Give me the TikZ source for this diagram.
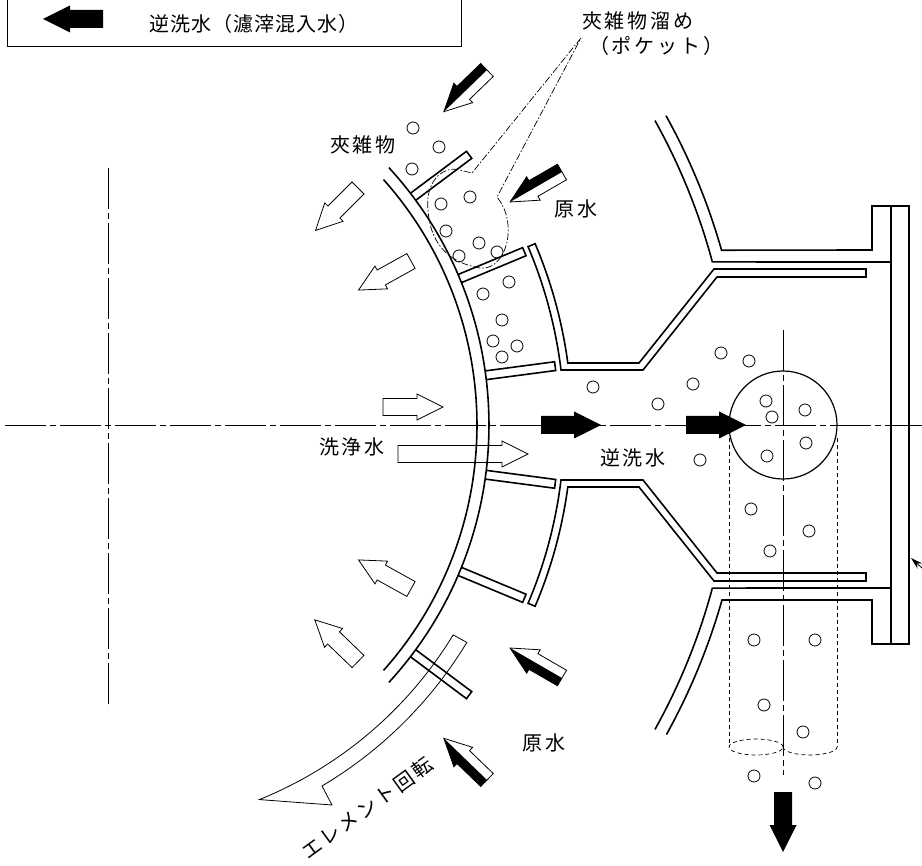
\documentclass[tikz,border=0pt]{standalone}
\usepackage{fontspec}
\setmainfont{Noto Sans CJK JP}[LetterSpace=14]
\newfontfamily\legendfont{Noto Sans CJK JP}[LetterSpace=5]
\usetikzlibrary{calc, arrows.meta}
\tikzset{
  wall/.style={line width=1.6pt, line join=miter}, % double walls, vanes and the flange
  hairline/.style={line width=0.8pt}, % outlines of the flow arrows
  centre line/.style={line width=0.8pt, dash pattern=on 41pt off 4pt on 6pt off 4pt},
  pocket line/.style={line width=0.7pt, dash pattern=on 7pt off 2pt on 1.5pt off 2pt},
  hidden line/.style={line width=0.7pt, dash pattern=on 4pt off 3pt},
  particle/.style={circle, draw, line width=0.8pt, inner sep=0pt, minimum size=12pt},
  caption/.style={inner sep=0pt, font=\fontsize{20}{24}\selectfont},
  pics/backflow/.style={code={ % solid arrow, tail at the origin
    \fill (0,-9) -- (33,-9) -- (33,-13.5) -- (60,0) -- (33,13.5) -- (33,9) -- (0,9) -- cycle;
  }},
  pics/wash/.style={code={ % open arrow, #1 is its length
    \draw[hairline] (0,-8.5) -- (#1-26,-8.5) -- (#1-26,-13) -- (#1,0) -- (#1-26,13) -- (#1-26,8.5) -- (0,8.5) -- cycle;
  }},
  pics/raw/.style={code={ % half black arrow
    \fill (0,0) -- (0,9) -- (33,9) -- (33,13.5) -- (60,0) -- cycle;
    \draw[hairline] (0,-9) -- (33,-9) -- (33,-13.5) -- (60,0) -- (33,13.5) -- (33,9) -- (0,9) -- cycle;
  }},
}

\begin{document}
\begin{tikzpicture}[x=1pt, y=-1pt]
    \clip (0,0) rectangle (922,866);
    \coordinate (drum) at (108,425);

    % legend
    \draw[hairline] (7,-5) rectangle (461,46);
    \pic[rotate=180] at (103,19) {backflow};
    \node[caption, font=\fontsize{20}{24}\selectfont\legendfont] (legendtext) at (254,24) {逆洗水（濾滓混入水）};

    % centre lines
    \draw[centre line] (5,425) -- (922,425);
    \draw[centre line] (108,168) -- (108,708);
    \draw[centre line] (783,330) -- (783,775);

    % element drum
    \draw[wall] ($(drum)+(41.7:369pt)$) arc[start angle=41.7, end angle=-41.7, radius=369pt];
    \draw[wall] ($(drum)+(42.5:381pt)$) arc[start angle=42.5, end angle=-42.5, radius=381pt];

    % vanes
    \draw[wall, shift={(drum)}, rotate=36.8] (381,-4.4) -- (451,-4.4) -- (451,4.4) -- (381,4.4);
    \draw[wall, shift={(drum)}, rotate=22.6] (381,-4.4) -- (451,-4.4) -- (451,4.4) -- (381,4.4);
    \draw[wall, shift={(drum)}, rotate=7.5] (381,-4.4) -- (451,-4.4) -- (451,4.4) -- (381,4.4);
    \draw[wall, shift={(drum)}, rotate=-7.5] (381,-4.4) -- (451,-4.4) -- (451,4.4) -- (381,4.4);
    \draw[wall, shift={(drum)}, rotate=-22.6] (381,-4.4) -- (451,-4.4) -- (451,4.4) -- (381,4.4);
    \draw[wall, shift={(drum)}, rotate=-36.8] (381,-4.4) -- (451,-4.4) -- (451,4.4) -- (381,4.4);

    % inner shell
    \draw[wall] ($(drum)+(23:464pt)$) arc[start angle=23, end angle=7.68, radius=464pt]
        -- (639,363) -- (714,269) -- (866,269) -- (866,277) -- (717,277) -- (643,370) -- (561,370)
        arc[start angle=6.92, end angle=23, radius=456.3pt] -- cycle;
    \draw[wall] ($(drum)+(-23:464pt)$) arc[start angle=-23, end angle=-7.68, radius=464pt]
        -- (639,487) -- (714,581) -- (866,581) -- (866,573) -- (717,573) -- (643,480) -- (561,480)
        arc[start angle=-6.92, end angle=-23, radius=456.3pt] -- cycle;

    % outer casing and flange
    \draw[wall] ($(drum)+(29:638pt)$) arc[start angle=29, end angle=15.9, radius=638pt]
        -- (872,250) -- (872,206) -- (909,206) -- (909,644) -- (872,644) -- (872,600) -- (722,600)
        arc[start angle=-15.9, end angle=-29, radius=638pt];
    \draw[wall] ($(drum)+(29.1:626pt)$) arc[start angle=29.1, end angle=15.1, radius=626pt] -- (891,262);
    \draw[wall] ($(drum)+(-29.1:626pt)$) arc[start angle=-29.1, end angle=-15.1, radius=626pt] -- (891,588);
    \draw[wall] (891,206) -- (891,644);

    % outlet and its hidden pipe
    \node[circle, draw, line width=1.2pt, inner sep=0pt, minimum size=108pt] (outlet) at (783,425) {};
    \draw[hidden line] (729,438) -- (729,747);
    \draw[hidden line] (837,438) -- (837,747);
    \draw[hidden line] (756,747) ellipse[x radius=27pt, y radius=8pt];
    \draw[hidden line] (783,747) arc[start angle=180, end angle=360, x radius=27pt, y radius=8pt];

    % rotation arrow
    \draw[hairline] ($(drum)+(-31.3:404pt)$) arc[start angle=-31.3, end angle=-68, radius=404pt]
        -- (332,805) -- (322,786)
        arc[start angle=-59.3, end angle=-31.2, radius=420pt] -- cycle;

    % pocket outline with its two leaders
    \coordinate (pocketmark) at (581,38);
    \draw[pocket line] (pocketmark) -- (472,173) -- (460,170)
        .. controls (440,165) and (425,185) .. (428,210)
        .. controls (430,240) and (445,262) .. (480,268)
        .. controls (500,270) and (510,245) .. (508,225)
        .. controls (507,213) and (503,205) .. (497,197) -- (pocketmark);

    % small arrow at the flange
    \coordinate (flangeend) at (922,568);
    \coordinate (flangemark) at (911,558);
    \draw[hairline, -{Stealth[length=12pt, width=7pt]}] (flangeend) -- (flangemark);

    % flow arrows
    \pic[rotate=224] at (487,70) {raw};
    \pic[rotate=210] at (562,172) {raw};
    \pic[rotate=150, yscale=-1] at (562,678) {raw};
    \pic[rotate=136, yscale=-1] at (487,780) {raw};
    \pic[rotate=225] at (358,188) {wash=60};
    \pic[rotate=209] at (411,261) {wash=60};
    \pic[rotate=151] at (411,589) {wash=60};
    \pic[rotate=136] at (358,661.5) {wash=60};
    \pic at (383,407) {wash=60};
    \pic at (398,454) {wash=130};
    \pic at (541,425) {backflow};
    \pic at (686,425) {backflow};
    \pic[rotate=-90] at (783,792) {backflow};

    % particles
    \node[particle] (p1) at (413,128) {};
    \node[particle] (p2) at (439,147) {};
    \node[particle] (p3) at (412,169) {};
    \node[particle] (p4) at (441,204) {};
    \node[particle] (p5) at (470,197) {};
    \node[particle] (p6) at (446,231) {};
    \node[particle] (p7) at (479,243) {};
    \node[particle] (p8) at (497,252) {};
    \node[particle] (p9) at (459,256) {};
    \node[particle] (p10) at (509,282) {};
    \node[particle] (p11) at (483,294) {};
    \node[particle] (p12) at (502,320) {};
    \node[particle] (p13) at (493,341) {};
    \node[particle] (p14) at (517,346) {};
    \node[particle] (p15) at (502,357) {};
    \node[particle] (p16) at (593,387) {};
    \node[particle] (p17) at (721,353) {};
    \node[particle] (p18) at (749,361) {};
    \node[particle] (p19) at (693,384) {};
    \node[particle] (p20) at (658,404) {};
    \node[particle] (p21) at (766,401) {};
    \node[particle] (p22) at (772,417) {};
    \node[particle] (p23) at (805,410) {};
    \node[particle] (p24) at (806,443) {};
    \node[particle] (p25) at (767,456) {};
    \node[particle] (p26) at (700,460) {};
    \node[particle] (p27) at (751,509) {};
    \node[particle] (p28) at (809,531) {};
    \node[particle] (p29) at (770,551) {};
    \node[particle] (p30) at (754,640) {};
    \node[particle] (p31) at (815,640) {};
    \node[particle] (p32) at (764,705) {};
    \node[particle] (p33) at (803,732) {};
    \node[particle] (p34) at (754,776) {};
    \node[particle] (p35) at (815,783) {};

    % labels
    \node[caption, anchor=west] (pockettext) at (582,21) {夾雑物溜め};
    \node[caption, anchor=west] (pockettextb) at (589,46) {（ポケット）};
    \node[caption] (debristext) at (363,145) {夾雑物};
    \node[caption] (rawtexta) at (576,209) {原水};
    \node[caption] (rawtextb) at (544,743) {原水};
    \node[caption] (washtext) at (352,447) {洗浄水};
    \node[caption] (backtext) at (633,458) {逆洗水};
    \node[caption, rotate=36] (turntext) at (367,808) {エレメント回転};
\end{tikzpicture}
\end{document}
